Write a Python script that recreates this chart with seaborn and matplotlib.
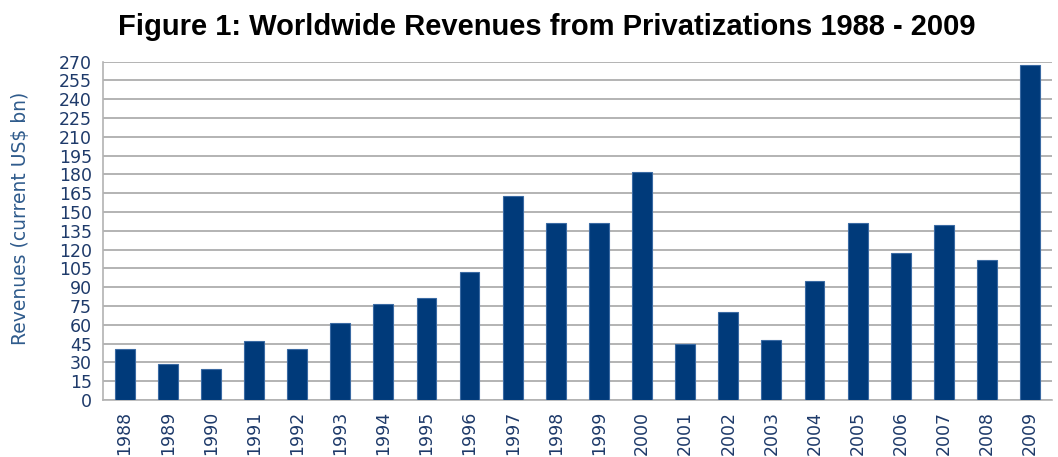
import matplotlib
matplotlib.use("Agg")
import matplotlib.pyplot as plt
import numpy as np
import pandas as pd
import seaborn as sns

# Revenue per year (current US$ bn).
years = ["1988", "1989", "1990", "1991", "1992", "1993", "1994", "1995",
         "1996", "1997", "1998", "1999", "2000", "2001", "2002", "2003",
         "2004", "2005", "2006", "2007", "2008", "2009"]
revenues = [41, 29, 24.5, 47, 41, 61.5, 76.5, 81.5,
            102, 163, 141.5, 141.5, 182, 45, 70, 48,
            95, 141.5, 117.5, 139.5, 112, 267]
y_ticks = list(range(0, 271, 15))

df = pd.DataFrame({"year": years, "revenue": revenues})

sns.set_style("white")
plt.rcParams["font.family"] = ["DejaVu Sans"]

fig = plt.figure(figsize=(10.58, 4.57), dpi=100)
ax = fig.add_axes([0.0974, 0.1247, 0.8966, 0.7403])

sns.barplot(data=df, x="year", y="revenue", color="#003a7a", width=0.46,
            saturation=1, edgecolor="#3a6aa3", linewidth=0.8, ax=ax, zorder=3)

# Horizontal grid lines like the original spreadsheet chart.
ax.set_yticks(y_ticks)
ax.set_ylim(0, 270)
ax.set_xlim(-0.5, len(years) - 0.5)
ax.yaxis.grid(True, color="#b3b3b3", linewidth=1.4, zorder=0)
ax.set_axisbelow(True)

text_color = "#1e3a6a"
ax.tick_params(axis="y", labelsize=12.5, labelcolor=text_color, length=5,
               color="#b3b3b3", width=1.2, pad=3)
ax.tick_params(axis="x", labelsize=12.5, labelcolor=text_color, length=0,
               rotation=90, pad=8)

# Small tick marks between the categories.
ax.set_xticks(np.arange(-0.5, len(years), 1.0), minor=True)
ax.tick_params(axis="x", which="minor", length=5, color="#b3b3b3", width=1.2)

for side in ["top", "right"]:
    ax.spines[side].set_visible(False)
for side in ["left", "bottom"]:
    ax.spines[side].set_color("#b3b3b3")
    ax.spines[side].set_linewidth(1.2)

ax.set_xlabel("")
ax.set_ylabel("Revenues (current US$ bn)", fontsize=13.5, color="#2f5b8c")
ax.yaxis.set_label_coords(-0.077, 0.538)

fig.text(0.5166, 0.941, "Figure 1: Worldwide Revenues from Privatizations 1988 - 2009",
         ha="center", va="center", fontsize=21, fontweight="bold", color="black",
         family=["Liberation Sans", "DejaVu Sans"])

fig.savefig("out.png", dpi=100)
